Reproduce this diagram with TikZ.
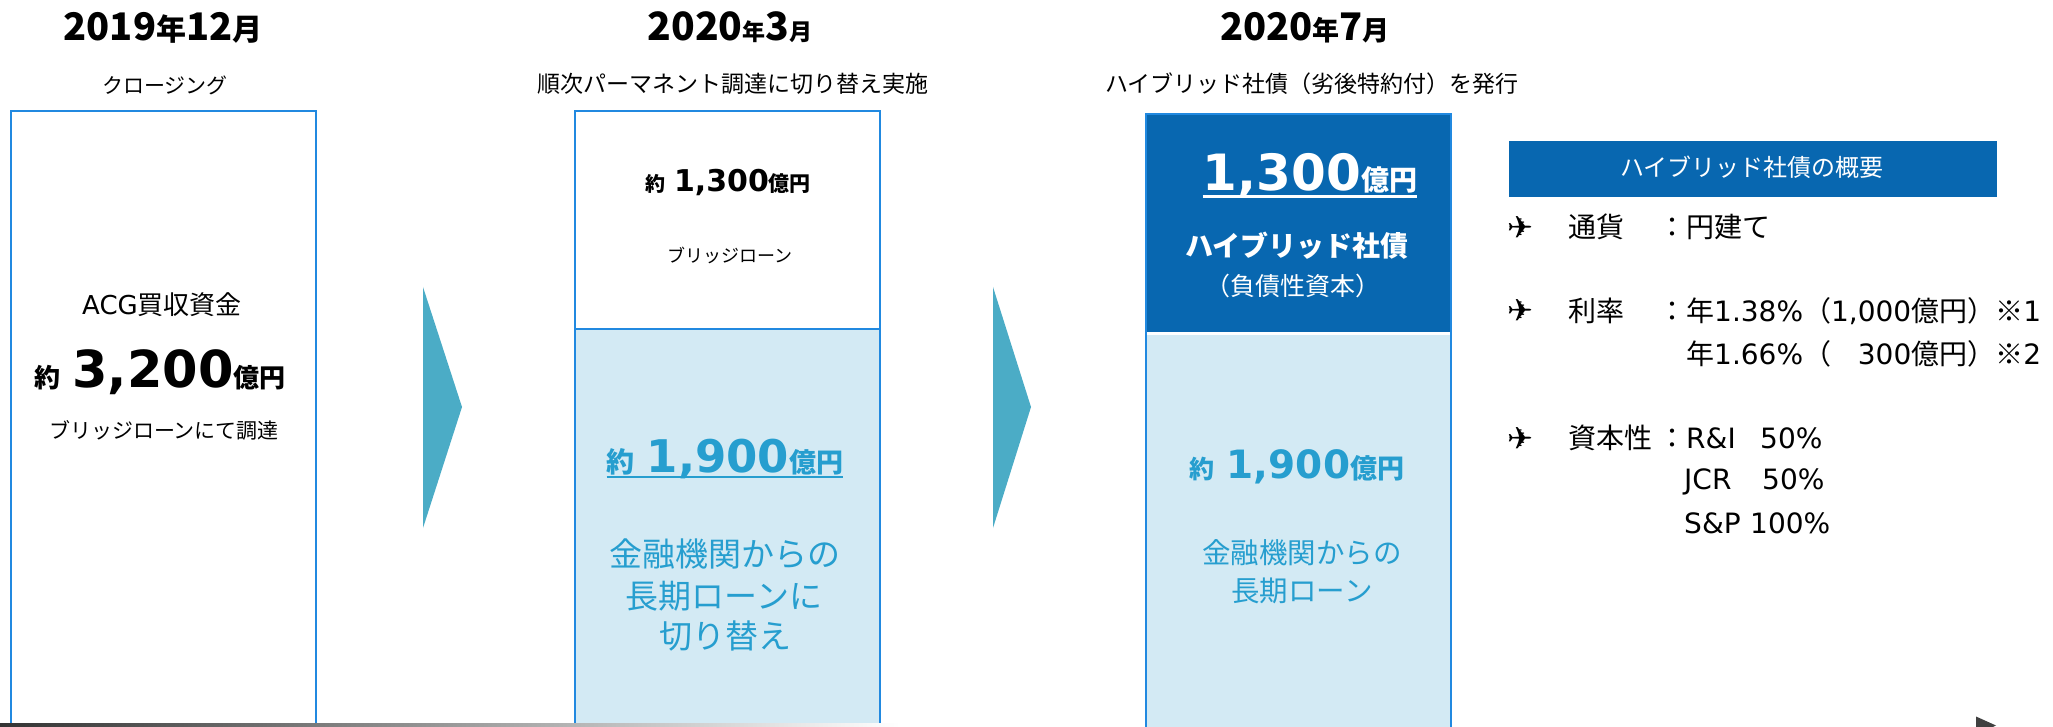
\documentclass[tikz,border=0pt]{standalone}
\usepackage{fontspec}
\setmainfont{Noto Sans CJK JP}
\newfontfamily\lat{DejaVu Sans}
\usetikzlibrary{arrows.meta}
\definecolor{bordc}{RGB}{33,137,224}
\definecolor{lightf}{RGB}{211,234,244}
\definecolor{darkb}{RGB}{8,103,176}
\definecolor{txtb}{RGB}{38,158,207}
\definecolor{chevc}{RGB}{75,172,198}
\newcommand\myfs[1]{\fontsize{#1}{#1}\selectfont}
\begin{document}
\begin{tikzpicture}[x=1pt,y=-1pt,
  txt/.style={inner sep=0pt, anchor=base},
  lft/.style={inner sep=0pt, anchor=base west},
  bx/.style={draw=bordc, line width=1.8pt, inner sep=0pt, anchor=north west, minimum width=305},
  fl/.style={inner sep=0pt, anchor=north west, minimum width=305},
  chev/.style={fill=chevc}]
\useasboundingbox (0,0) rectangle (2053,727);
\clip (0,0) rectangle (2053,727);
\fill[white] (0,0) rectangle (2053,727);

% headings
\node[txt, font=\bfseries] (h1) at (163,41) {\myfs{38}2019\myfs{30}年\myfs{38}12\myfs{30}月};
\node[txt, font=\bfseries] (h2) at (730,41) {\myfs{39}2020\myfs{23}年\myfs{39}3\myfs{23}月};
\node[txt, font=\bfseries] (h3) at (1305,41) {\myfs{38}2020\myfs{27}年\myfs{38}7\myfs{27}月};
\node[txt] (s1) at (165,94) {\myfs{21}クロージング};
\node[txt] (s2) at (733,93) {\myfs{23}順次パーマネント調達に切り替え実施};
\node[txt] (s3) at (1312,93) {\myfs{23}ハイブリッド社債（劣後特約付）を発行};

% box 1
\node[bx, fill=white, minimum height=640] (b1) at (10,110) {};
\node[txt] (a1) at (162,315) {\myfs{26}{\lat ACG}買収資金};
\node[txt] (a2) at (160,387) {{\bfseries\myfs{26}約}\hspace{12pt}{\lat\bfseries\myfs{51}3,200}{\bfseries\myfs{26}億円}};
\node[txt] (a3) at (164,438) {\myfs{21}ブリッジローンにて調達};

% chevrons
\fill[chev] (423,287) -- (462,407) -- (423,528) -- cycle;
\fill[chev] (993,287) -- (1031,407) -- (993,528) -- cycle;

% box 2
\node[fl, fill=white, minimum height=219] (b2t) at (574,110) {};
\node[fl, fill=lightf, minimum height=420] (b2b) at (574,329) {};
\node[bx, minimum height=640] (b2) at (574,110) {};
\draw[bordc, line width=1.8pt] (b2b.north west) -- (b2b.north east);
\node[txt] (c1) at (728,192) {{\bfseries\myfs{20}約}\hspace{9pt}{\lat\bfseries\myfs{30}1,300}{\bfseries\myfs{21}億円}};
\node[txt] (c2) at (730,263) {\myfs{18}ブリッジローン};
\node[txt, text=txtb] (c3) at (725,472) {{\bfseries\myfs{28}約}\hspace{12pt}{\lat\bfseries\myfs{45}1,900}{\bfseries\myfs{27}億円}};
\draw[txtb, line width=2.6pt] ([yshift=-5pt]c3.base west) -- ([yshift=-5pt]c3.base east);
\node[txt, text=txtb] (c4) at (725,566) {\myfs{33}金融機関からの};
\node[txt, text=txtb] (c5) at (724,608) {\myfs{33}長期ローンに};
\node[txt, text=txtb] (c6) at (725,648) {\myfs{33}切り替え};

% box 3
\node[fl, fill=darkb, minimum height=219] (b3t) at (1145,113) {};
\node[fl, fill=lightf, minimum height=420] (b3b) at (1145,335) {};
\node[bx, minimum height=640] (b3) at (1145,113) {};
\node[txt, text=white] (d1) at (1310,191) {{\lat\bfseries\myfs{50}1,300}{\bfseries\myfs{28}億円}};
\draw[white, line width=3pt] ([yshift=-6pt]d1.base west) -- ([yshift=-6pt]d1.base east);
\node[txt, text=white] (d2) at (1297,257) {\bfseries\myfs{28}ハイブリッド社債};
\node[txt, text=white] (d3) at (1293,295) {\myfs{25}（負債性資本）};
\node[txt, text=txtb] (d4) at (1297,478) {{\bfseries\myfs{25}約}\hspace{12pt}{\lat\bfseries\myfs{39}1,900}{\bfseries\myfs{27}億円}};
\node[txt, text=txtb] (d5) at (1302,563) {\myfs{28.5}金融機関からの};
\node[txt, text=txtb] (d6) at (1302,601) {\myfs{28.5}長期ローン};

% right panel
\node[fill=darkb, inner sep=0pt, anchor=north west, minimum width=488, minimum height=56] (hd) at (1509,141) {};
\node[txt, text=white] (hdt) at (1752,177) {\myfs{24}ハイブリッド社債の概要};

\node[lft] (p1) at (1507,239) {\lat\myfs{31}✈};
\node[lft] (k1) at (1568,238) {\myfs{28}通貨};
\node[lft] (v1) at (1658,238) {\myfs{28}：円建て};

\node[lft] (p2) at (1507,322) {\lat\myfs{31}✈};
\node[lft] (k2) at (1568,321) {\myfs{28}利率};
\node[lft] (v2) at (1658,321) {\myfs{28}：年{\lat 1.38\%}（{\lat 1,000}億円）※{\lat 1}};
\node[lft] (v3) at (1686,364) {\myfs{28}年{\lat 1.66\%}（{\lat\phantom{1,}300}億円）※{\lat 2}};

\node[lft] (p3) at (1507,449) {\lat\myfs{31}✈};
\node[lft] (k3) at (1568,448) {\myfs{28}資本性};
\node[lft] (v4) at (1658,448) {\myfs{28}：};
\node[lft] (r1) at (1686,448) {\lat\myfs{28}R\&I};
\node[lft] (r1v) at (1760,448) {\lat\myfs{28}50\%};
\node[lft] (r2) at (1684,489) {\lat\myfs{28}JCR};
\node[lft] (r2v) at (1762,489) {\lat\myfs{28}50\%};
\node[lft] (r3) at (1684,533) {\lat\myfs{28}S\&P};
\node[lft] (r3v) at (1750,533) {\lat\myfs{28}100\%};

% timeline
\coordinate (tlS) at (0,725.5);
\coordinate (tlE) at (1996,725.5);
\fill[left color=black!80, right color=white] (0,723.5) rectangle (900,727.5);
\fill[black!75] (1976,716.5) -- (tlE) -- (1976,734.5) -- cycle;
\end{tikzpicture}
\end{document}
